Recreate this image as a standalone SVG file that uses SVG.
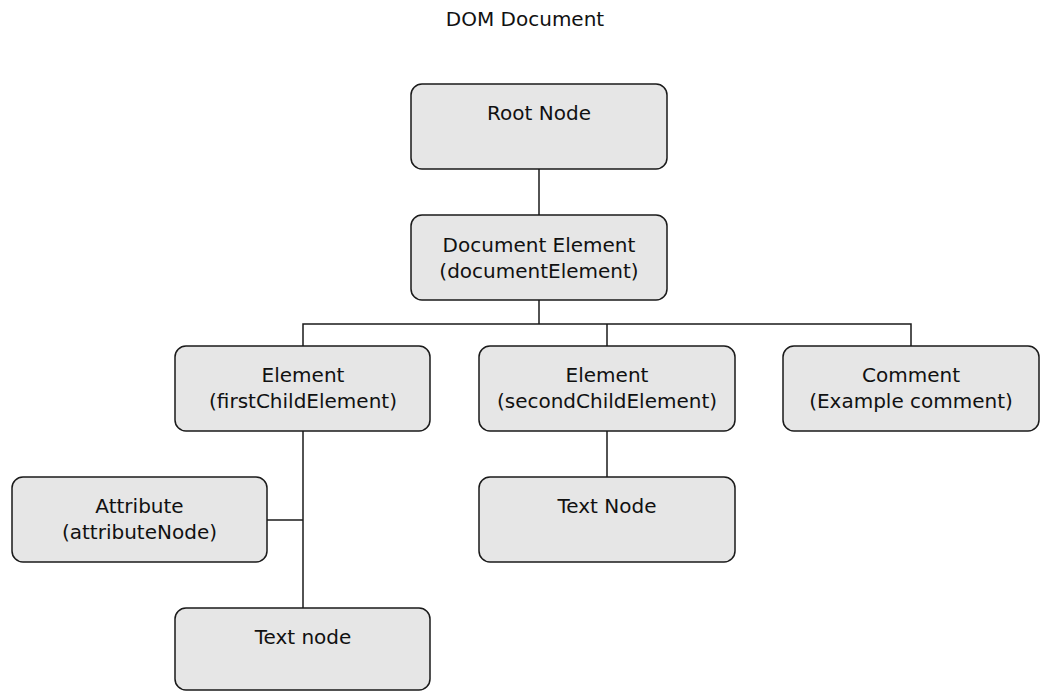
<svg xmlns="http://www.w3.org/2000/svg" width="1041" height="692" viewBox="0 0 1041 692">
<style>
.box{fill:#e6e6e6;stroke:#1a1a1a;stroke-width:1.5}
.t{font-family:"DejaVu Sans",sans-serif;font-size:20px;fill:#111;text-anchor:middle}
.c{fill:none;stroke:#1a1a1a;stroke-width:1.5}
</style>
<rect width="1041" height="692" fill="#fff"/>
<text class="t" x="525" y="26">DOM Document</text>
<g id="connectors">
<line class="c" x1="539" y1="169" x2="539" y2="215"/>
<polyline class="c" points="539,300 539,324"/>
<polyline class="c" points="303,346 303,324 911,324 911,346"/>
<line class="c" x1="607" y1="324" x2="607" y2="346"/>
<line class="c" x1="303" y1="431" x2="303" y2="608"/>
<line class="c" x1="267" y1="520" x2="303" y2="520"/>
<line class="c" x1="607" y1="431" x2="607" y2="477"/>
</g>
<g id="root">
<rect class="box" x="411" y="84" width="256" height="85" rx="11"/>
<text class="t" x="539" y="120">Root Node</text>
</g>
<g id="docElement">
<rect class="box" x="411" y="215" width="256" height="85" rx="11"/>
<text class="t" x="539" y="252">Document Element</text>
<text class="t" x="539" y="278">(documentElement)</text>
</g>
<g id="firstChild">
<rect class="box" x="175" y="346" width="255" height="85" rx="11"/>
<text class="t" x="303" y="382">Element</text>
<text class="t" x="303" y="408">(firstChildElement)</text>
</g>
<g id="secondChild">
<rect class="box" x="479" y="346" width="256" height="85" rx="11"/>
<text class="t" x="607" y="382">Element</text>
<text class="t" x="607" y="408">(secondChildElement)</text>
</g>
<g id="comment">
<rect class="box" x="783" y="346" width="256" height="85" rx="11"/>
<text class="t" x="911" y="382">Comment</text>
<text class="t" x="911" y="408">(Example comment)</text>
</g>
<g id="attribute">
<rect class="box" x="12" y="477" width="255" height="85" rx="11"/>
<text class="t" x="139.5" y="513">Attribute</text>
<text class="t" x="139.5" y="539">(attributeNode)</text>
</g>
<g id="textNode1">
<rect class="box" x="175" y="608" width="255" height="82" rx="11"/>
<text class="t" x="303" y="644">Text node</text>
</g>
<g id="textNode2">
<rect class="box" x="479" y="477" width="256" height="85" rx="11"/>
<text class="t" x="607" y="513">Text Node</text>
</g>
</svg>
